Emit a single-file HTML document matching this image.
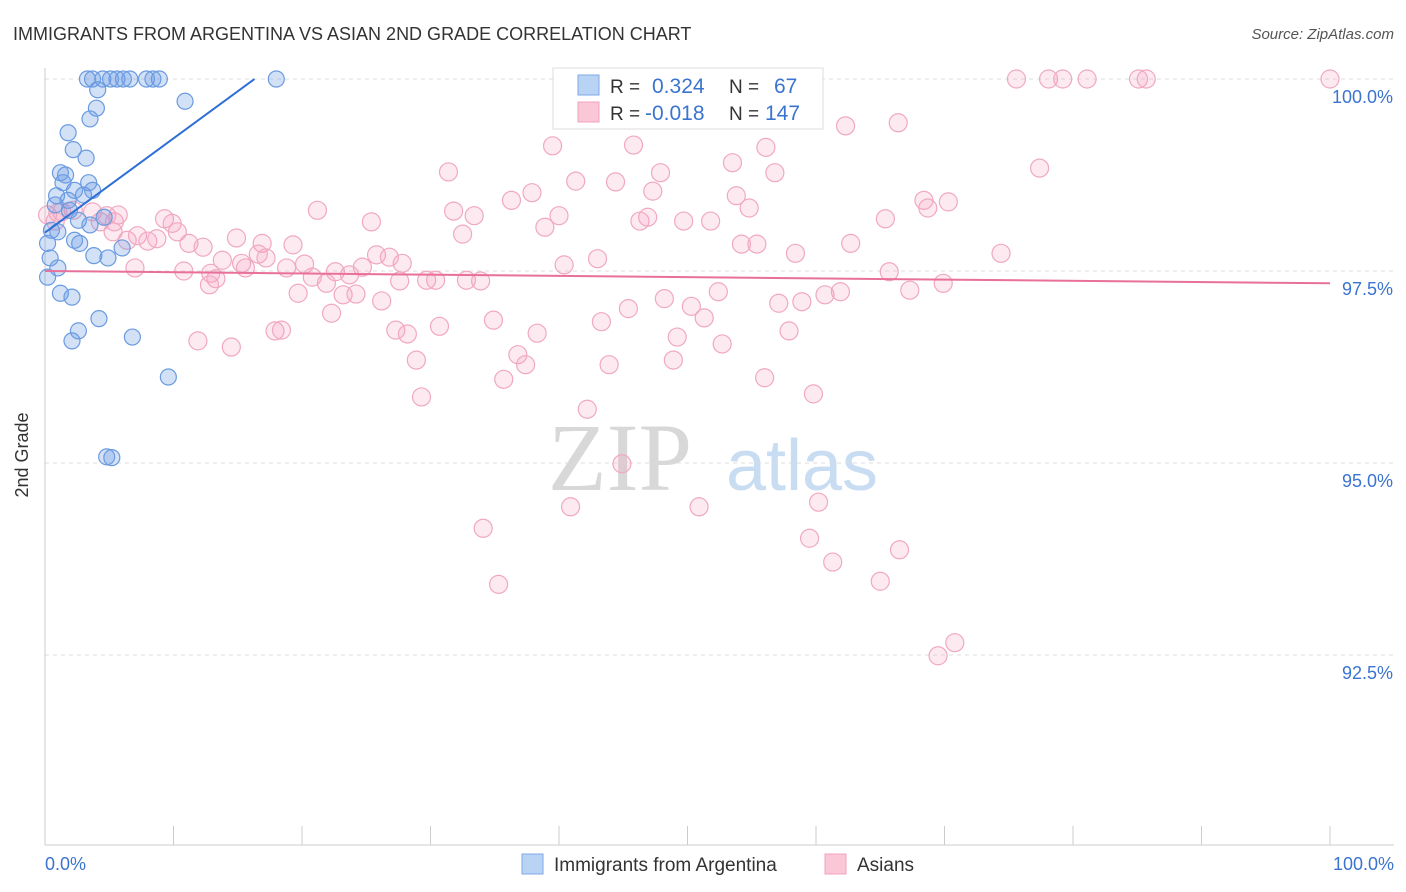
<!DOCTYPE html>
<html><head><meta charset="utf-8">
<style>
body{margin:0;background:#fff;font-family:"Liberation Sans",sans-serif;}
#wrap{position:relative;width:1406px;height:892px;overflow:hidden;}
</style></head>
<body>
<div id="wrap">
<svg id="chart" width="1406" height="892">
<text x="13" y="40" font-size="18" fill="#333">IMMIGRANTS FROM ARGENTINA VS ASIAN 2ND GRADE CORRELATION CHART</text>
<text x="1394" y="39" font-size="15" fill="#555" text-anchor="end" font-style="italic">Source: ZipAtlas.com</text>
<text x="620" y="490" font-size="96" fill="#d8d8d8" font-family="Liberation Serif,serif" text-anchor="middle">ZIP</text>
<text x="802" y="490" font-size="72" fill="#c8dcf2" text-anchor="middle">atlas</text>
<g id="grid"></g><g id="axes"></g><g id="pts"></g><g id="trend"></g>
<text x="28" y="455" font-size="18" fill="#333" text-anchor="middle" transform="rotate(-90 28 455)">2nd Grade</text>
<text x="45" y="870" font-size="18" fill="#3a74d0">0.0%</text>
<text x="1394" y="870" font-size="18" fill="#3a74d0" text-anchor="end">100.0%</text>
<g>
<rect x="553" y="68" width="270" height="61" fill="#fff" stroke="#ddd"/>
<rect x="578" y="75" width="21" height="20" fill="#b9d3f5" stroke="#7faae6"/>
<rect x="578" y="102" width="21" height="20" fill="#fac7d6" stroke="#f0a0bc"/>
<text x="610" y="93" font-size="19" fill="#333">R =</text>
<text x="652" y="93" font-size="21" fill="#3a74d0">0.324</text>
<text x="729" y="93" font-size="19" fill="#333">N =</text>
<text x="774" y="93" font-size="21" fill="#3a74d0">67</text>
<text x="610" y="120" font-size="19" fill="#333">R =</text>
<text x="645" y="120" font-size="21" fill="#3a74d0">-0.018</text>
<text x="729" y="120" font-size="19" fill="#333">N =</text>
<text x="765" y="120" font-size="21" fill="#3a74d0">147</text>
</g>
<g>
<rect x="522" y="854" width="21" height="20" fill="#b9d3f5" stroke="#7faae6"/>
<text x="554" y="871" font-size="19" fill="#333">Immigrants from Argentina</text>
<rect x="825" y="854" width="21" height="20" fill="#fac7d6" stroke="#f0a0bc"/>
<text x="857" y="871" font-size="19" fill="#333">Asians</text>
</g>
</svg>
</div>
<script>
const yTicks=[100,97.5,95,92.5];
const yTickLabels=["100.0%","97.5%","95.0%","92.5%"];
const xTicks=[0,10,20,30,40,50,60,70,80,90,100];
const blueX=[3.3,3.7,4.5,5.1,5.6,6.1,6.6,7.9,8.4,8.9,18.0,10.9,4.1,4.0,3.5,1.8,2.2,3.2,1.2,1.6,1.4,3.4,2.3,3.7,0.9,3.0,1.8,0.8,1.9,2.6,3.5,4.6,0.5,1.0,2.3,0.2,2.7,6.0,3.8,4.9,0.4,1.0,0.2,1.2,2.1,4.2,2.6,2.1,6.8,9.6,4.8,5.2];
const blueY=[100,100,100,100,100,100,100,100,100,100,100,99.71,99.86,99.62,99.48,99.30,99.08,98.97,98.78,98.75,98.65,98.65,98.55,98.55,98.48,98.49,98.42,98.36,98.29,98.16,98.10,98.20,98.03,98.01,97.90,97.86,97.86,97.80,97.70,97.67,97.67,97.54,97.42,97.21,97.16,96.88,96.72,96.59,96.64,96.12,95.08,95.07];
const pinkX=[75.6,78.1,79.2,81.1,85.1,85.7,100,77.4,62.3,66.4,45.8,39.5,56.1,53.5,31.4,47.9,41.3,44.4,56.8,37.9,36.3,47.3,53.8,68.4,70.3,68.7,54.8,65.4,51.8,49.7,46.3,46.9,40.0,33.4,31.8,38.9,32.5,25.4,21.2,9.3,9.9,5.4,4.8,3.7,2.2,1.0,0.8,5.3,6.4,7.2,8.0,8.7,10.3,11.2,12.3,14.9,16.9,19.3,16.6,17.2,13.8,15.3,15.6,25.8,26.8,27.8,24.7,22.6,23.7,21.9,20.8,18.8,20.2,7.0,10.8,12.9,13.3,12.8,19.7,23.2,24.2,26.2,27.6,29.7,30.4,32.8,33.9,40.4,43.0,54.2,55.4,58.4,62.7,65.7,67.3,69.9,74.4,52.4,48.2,50.3,51.3,45.4,43.3,34.9,38.3,30.7,27.3,28.2,22.3,17.9,18.4,11.9,14.5,57.1,58.9,60.7,61.9,57.9,49.2,52.7,36.8,37.4,35.7,28.9,43.9,48.9,56.0,59.8,29.3,42.2,44.9,40.9,50.9,60.2,34.1,59.5,66.5,61.3,65.0,35.3,70.8,69.5,0.2,1.3,4.3,5.7];
const pinkY=[100,100,100,100,100,100,100,98.84,99.39,99.43,99.14,99.13,99.11,98.91,98.79,98.78,98.67,98.66,98.78,98.52,98.42,98.54,98.48,98.42,98.40,98.32,98.32,98.18,98.15,98.15,98.15,98.20,98.22,98.22,98.28,98.07,97.98,98.14,98.29,98.18,98.12,98.14,98.22,98.27,98.29,98.26,98.15,98.01,97.90,97.96,97.89,97.92,98.01,97.86,97.81,97.93,97.86,97.84,97.72,97.67,97.64,97.60,97.54,97.71,97.68,97.60,97.55,97.49,97.45,97.34,97.42,97.54,97.59,97.54,97.50,97.47,97.40,97.32,97.21,97.19,97.20,97.11,97.37,97.38,97.38,97.38,97.37,97.58,97.66,97.85,97.85,97.73,97.86,97.49,97.25,97.34,97.73,97.23,97.14,97.04,96.89,97.01,96.84,96.86,96.69,96.78,96.73,96.68,96.95,96.72,96.73,96.59,96.51,97.08,97.10,97.19,97.23,96.72,96.64,96.55,96.41,96.28,96.09,96.34,96.28,96.34,96.11,95.90,95.86,95.70,94.99,94.43,94.43,94.49,94.15,94.02,93.87,93.71,93.46,93.42,92.66,92.49,98.23,98.27,98.14,98.23];
const blueTrendX=[0,16.3];
const blueTrendY=[98.0,100];
const pinkTrendX=[0,100];
const pinkTrendY=[97.50,97.34];

const NS="http://www.w3.org/2000/svg";
function sx(v){return 45+v*12.85;}
function sy(v){return 79+(100-v)*76.8;}
function mk(tag,attrs,parent){const e=document.createElementNS(NS,tag);for(const k in attrs)e.setAttribute(k,attrs[k]);parent.appendChild(e);return e;}
const grid=document.getElementById('grid'),axes=document.getElementById('axes'),pts=document.getElementById('pts'),trend=document.getElementById('trend');
yTicks.forEach((t,i)=>{
  const l=mk('line',{x1:45,x2:1394,y1:sy(t),y2:sy(t),stroke:'#ddd','stroke-dasharray':'4,4'},grid);
  
  
  const tx=mk('text',{x:1393,y:sy(t)+24,'font-size':18,fill:'#3a74d0','text-anchor':'end'},axes);
  tx.textContent=yTickLabels[i];
  
  
});
const ya=mk('line',{x1:45,x2:45,y1:68,y2:845,stroke:'#ccc'},axes);


const xa=mk('line',{x1:45,x2:1394,y1:845,y2:845,stroke:'#ccc'},axes);


xTicks.forEach(t=>{
  const l=mk('line',{x1:sx(t),x2:sx(t),y1:826,y2:845,stroke:'#ccc'},axes);
  
  
});
pinkX.forEach((x,i)=>{
  const c=mk('circle',{cx:sx(x),cy:sy(pinkY[i]),r:9,fill:'rgba(244,160,190,0.22)',stroke:'#f0a8c0','stroke-width':1.2},pts);
  
  
});
blueX.forEach((x,i)=>{
  const c=mk('circle',{cx:sx(x),cy:sy(blueY[i]),r:8,fill:'rgba(110,155,230,0.3)',stroke:'#6a9be0','stroke-width':1.2},pts);
  
  
});
const bt=mk('line',{x1:sx(blueTrendX[0]),y1:sy(blueTrendY[0]),x2:sx(blueTrendX[1]),y2:sy(blueTrendY[1]),stroke:'#2d6fd6','stroke-width':2},trend);


const pt=mk('line',{x1:sx(pinkTrendX[0]),y1:sy(pinkTrendY[0]),x2:sx(pinkTrendX[1]),y2:sy(pinkTrendY[1]),stroke:'#e8709a','stroke-width':2},trend);


</script>
</body></html>
